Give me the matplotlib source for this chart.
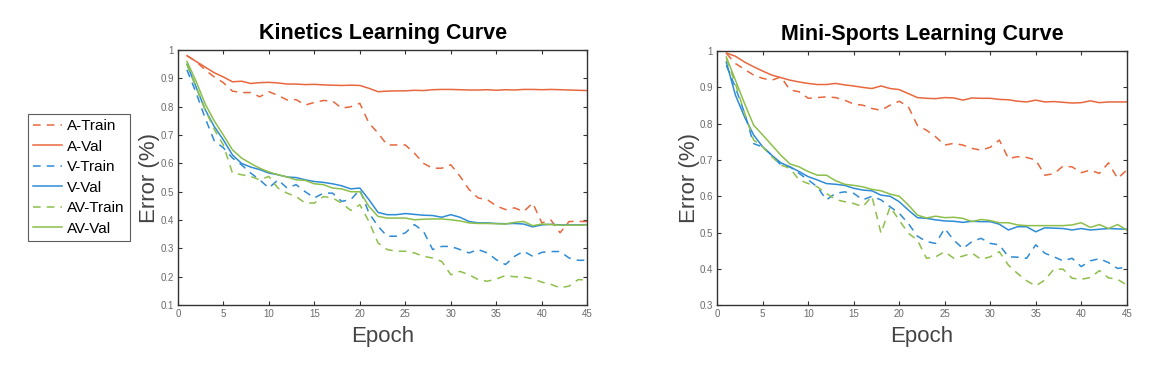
import numpy as np
import matplotlib.pyplot as plt

plt.rcParams['font.family'] = ['Liberation Sans', 'DejaVu Sans']

epochs = np.arange(1, 46)

# Kinetics learning curve (error)
kin_a_train = [0.98, 0.96, 0.93, 0.905, 0.885, 0.855, 0.85, 0.85, 0.835, 0.853,
               0.84, 0.824, 0.825, 0.806, 0.815, 0.822, 0.82, 0.795, 0.80, 0.812,
               0.742, 0.707, 0.665, 0.665, 0.665, 0.636, 0.60, 0.583, 0.583, 0.595,
               0.555, 0.508, 0.478, 0.472, 0.45, 0.437, 0.443, 0.43, 0.46, 0.39,
               0.40, 0.355, 0.395, 0.395, 0.395]
kin_a_val = [0.98, 0.96, 0.94, 0.92, 0.905, 0.888, 0.89, 0.882, 0.885, 0.886,
             0.884, 0.88, 0.88, 0.878, 0.879, 0.877, 0.876, 0.875, 0.876, 0.875,
             0.865, 0.853, 0.855, 0.856, 0.856, 0.858, 0.857, 0.86, 0.861, 0.861,
             0.86, 0.859, 0.859, 0.86, 0.858, 0.86, 0.859, 0.861, 0.861, 0.86,
             0.861, 0.86, 0.859, 0.858, 0.857]
kin_v_train = [0.93, 0.85, 0.76, 0.68, 0.655, 0.619, 0.595, 0.566, 0.542, 0.513,
               0.542, 0.513, 0.525, 0.50, 0.478, 0.495, 0.495, 0.466, 0.472, 0.507,
               0.425, 0.378, 0.343, 0.343, 0.355, 0.384, 0.36, 0.296, 0.307, 0.307,
               0.296, 0.284, 0.296, 0.284, 0.26, 0.243, 0.272, 0.29, 0.272, 0.286,
               0.289, 0.289, 0.266, 0.258, 0.258]
kin_v_val = [0.95, 0.87, 0.79, 0.73, 0.683, 0.63, 0.60, 0.587, 0.578, 0.566,
             0.56, 0.552, 0.55, 0.542, 0.536, 0.533, 0.528, 0.521, 0.51, 0.513,
             0.472, 0.427, 0.419, 0.419, 0.423, 0.42, 0.417, 0.416, 0.41, 0.419,
             0.41, 0.395, 0.39, 0.39, 0.388, 0.387, 0.388, 0.386, 0.376, 0.383,
             0.385, 0.383, 0.383, 0.383, 0.384]
kin_av_train = [0.95, 0.87, 0.79, 0.72, 0.665, 0.566, 0.56, 0.554, 0.542, 0.554,
                0.513, 0.495, 0.483, 0.46, 0.46, 0.483, 0.478, 0.46, 0.434, 0.454,
                0.395, 0.319, 0.296, 0.29, 0.29, 0.284, 0.272, 0.266, 0.254, 0.207,
                0.219, 0.207, 0.19, 0.184, 0.192, 0.204, 0.20, 0.199, 0.193, 0.181,
                0.173, 0.161, 0.167, 0.19, 0.188]
kin_av_val = [0.96, 0.89, 0.81, 0.75, 0.70, 0.648, 0.619, 0.60, 0.583, 0.57,
              0.56, 0.552, 0.542, 0.54, 0.528, 0.525, 0.513, 0.51, 0.50, 0.50,
              0.448, 0.413, 0.407, 0.407, 0.407, 0.401, 0.403, 0.404, 0.404, 0.401,
              0.397, 0.39, 0.388, 0.388, 0.387, 0.386, 0.392, 0.395, 0.38, 0.386,
              0.384, 0.382, 0.382, 0.382, 0.383]

# Mini-Sports learning curve (error)
ms_a_train = [0.994, 0.966, 0.95, 0.934, 0.925, 0.92, 0.929, 0.893, 0.888, 0.87,
              0.872, 0.874, 0.872, 0.865, 0.854, 0.851, 0.842, 0.837, 0.851, 0.862,
              0.847, 0.795, 0.782, 0.764, 0.741, 0.746, 0.741, 0.732, 0.727, 0.735,
              0.755, 0.704, 0.709, 0.707, 0.70, 0.658, 0.662, 0.683, 0.681, 0.665,
              0.672, 0.663, 0.692, 0.649, 0.672]
ms_a_val = [0.995, 0.986, 0.97, 0.957, 0.945, 0.934, 0.927, 0.92, 0.915, 0.911,
            0.908, 0.908, 0.911, 0.907, 0.904, 0.90, 0.897, 0.904, 0.897, 0.894,
            0.883, 0.872, 0.87, 0.869, 0.872, 0.871, 0.865, 0.871, 0.87, 0.87,
            0.867, 0.866, 0.862, 0.86, 0.865, 0.86, 0.861, 0.859, 0.857, 0.858,
            0.863, 0.858, 0.86, 0.86, 0.86]
ms_v_train = [0.961, 0.90, 0.83, 0.745, 0.736, 0.713, 0.686, 0.681, 0.663, 0.645,
              0.626, 0.59, 0.608, 0.612, 0.608, 0.59, 0.60, 0.59, 0.571, 0.553,
              0.525, 0.49, 0.475, 0.47, 0.511, 0.479, 0.456, 0.475, 0.484, 0.47,
              0.466, 0.433, 0.432, 0.429, 0.466, 0.443, 0.433, 0.422, 0.429, 0.406,
              0.422, 0.428, 0.417, 0.401, 0.404]
ms_v_val = [0.97, 0.879, 0.819, 0.769, 0.736, 0.713, 0.692, 0.681, 0.668, 0.654,
            0.645, 0.635, 0.633, 0.63, 0.622, 0.617, 0.615, 0.603, 0.60, 0.585,
            0.562, 0.541, 0.539, 0.535, 0.532, 0.531, 0.528, 0.531, 0.53, 0.53,
            0.523, 0.507, 0.516, 0.516, 0.502, 0.513, 0.512, 0.511, 0.507, 0.511,
            0.507, 0.509, 0.511, 0.51, 0.509]
ms_av_train = [0.98, 0.91, 0.83, 0.755, 0.736, 0.709, 0.686, 0.677, 0.645, 0.635,
               0.626, 0.608, 0.591, 0.585, 0.58, 0.571, 0.60, 0.498, 0.571, 0.534,
               0.498, 0.479, 0.429, 0.433, 0.447, 0.429, 0.435, 0.443, 0.426, 0.433,
               0.447, 0.41, 0.387, 0.367, 0.353, 0.369, 0.399, 0.399, 0.374, 0.371,
               0.376, 0.395, 0.375, 0.371, 0.355]
ms_av_val = [0.984, 0.92, 0.856, 0.796, 0.769, 0.741, 0.713, 0.689, 0.681, 0.668,
             0.658, 0.658, 0.643, 0.633, 0.63, 0.626, 0.619, 0.615, 0.606, 0.60,
             0.576, 0.548, 0.54, 0.545, 0.541, 0.542, 0.539, 0.53, 0.536, 0.533,
             0.527, 0.527, 0.521, 0.519, 0.519, 0.519, 0.519, 0.519, 0.521, 0.527,
             0.514, 0.522, 0.511, 0.522, 0.507]

labels = ['A-Train', 'A-Val', 'V-Train', 'V-Val', 'AV-Train', 'AV-Val']
colors = ['#E8683D', '#E8683D', '#2E8BD6', '#2E8BD6', '#8DBF4A', '#8DBF4A']
styles = ['--', '-', '--', '-', '--', '-']

fig = plt.figure(figsize=(11.7, 3.68), dpi=100)
ax1 = fig.add_axes([0.152, 0.171, 0.350, 0.693])
ax2 = fig.add_axes([0.613, 0.171, 0.350, 0.690])


def draw(ax, series, title, ymin, yticks):
    lines = []
    for s, lab, c, ls in zip(series, labels, colors, styles):
        ln, = ax.plot(epochs, s, ls, color=c, lw=1.1, label=lab,
                      dashes=(5, 4) if ls == '--' else (None, None))
        lines.append(ln)
    ax.set_xlim(0, 45)
    ax.set_ylim(ymin, 1)
    ax.set_xticks(np.arange(0, 46, 5))
    ax.set_yticks(yticks)
    ax.set_yticklabels(['1' if t == 1 else f'{t:.1f}' for t in yticks])
    ax.tick_params(direction='in', top=True, right=True, length=3, pad=3,
                   labelsize=7, labelcolor='#6a6a6a', color='#333333', width=0.8)
    for sp in ax.spines.values():
        sp.set_color('#333333')
        sp.set_linewidth(1.0)
    ax.set_title(title, fontsize=15.5, fontweight='bold', pad=8)
    ax.set_xlabel('Epoch', fontsize=16, color='#444444', labelpad=5)
    ax.set_ylabel('Error (%)', fontsize=16, color='#444444', labelpad=0)
    return lines


lines = draw(ax1, [kin_a_train, kin_a_val, kin_v_train, kin_v_val, kin_av_train, kin_av_val],
             'Kinetics Learning Curve', 0.1, np.round(np.arange(0.1, 1.01, 0.1), 1))
draw(ax2, [ms_a_train, ms_a_val, ms_v_train, ms_v_val, ms_av_train, ms_av_val],
     'Mini-Sports Learning Curve', 0.3, np.round(np.arange(0.3, 1.01, 0.1), 1))

leg = fig.legend(handles=lines, loc='upper left', bbox_to_anchor=(0.024, 0.69),
                 fontsize=11, frameon=True, fancybox=False, handlelength=1.9,
                 handletextpad=0.3, borderpad=0.35, labelspacing=0.42, borderaxespad=0)
leg.get_frame().set_edgecolor('#333333')
leg.get_frame().set_linewidth(0.8)

fig.savefig('out.png', dpi=100)
